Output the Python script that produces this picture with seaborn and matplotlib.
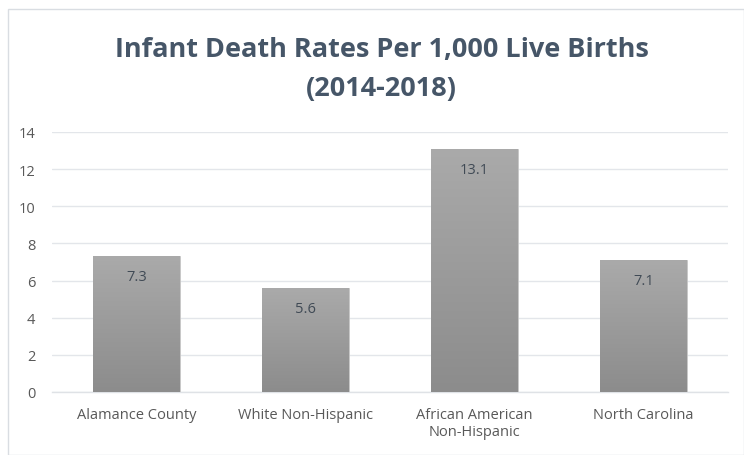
import numpy as np
import pandas as pd
import matplotlib
matplotlib.use("Agg")
import matplotlib.pyplot as plt
import seaborn as sns
from matplotlib.patches import Rectangle
from matplotlib.colors import LinearSegmentedColormap

categories = ["Alamance County", "White Non-Hispanic", "African American\nNon-Hispanic", "North Carolina"]
values = [7.3, 5.6, 13.1, 7.1]
value_labels = ["7.3", "5.6", "13.1", "7.1"]
yticks = [0, 2, 4, 6, 8, 10, 12, 14]

sns.set_theme(style="white")
plt.rcParams['font.family'] = ['Open Sans', 'DejaVu Sans']

fig = plt.figure(figsize=(7.44, 4.56), dpi=100)
ax = fig.add_axes([52/744, 1-393/456, 676/744, (393-133)/456])

df = pd.DataFrame({"cat": categories, "val": values})
sns.barplot(data=df, x="cat", y="val", ax=ax, color="#9a9a9a", width=0.51,
            edgecolor="#c8c8c8", linewidth=0.6, zorder=3)

# gradient fill
grad = np.linspace(0, 1, 256).reshape(-1, 1)
cmap = LinearSegmentedColormap.from_list("g", ["#8c8c8c", "#aaaaaa"])
for p in ax.patches:
    x0, y0 = p.get_x(), p.get_y()
    w, h = p.get_width(), p.get_height()
    im = ax.imshow(grad, extent=[x0, x0 + w, y0, y0 + h], origin="lower",
                   cmap=cmap, aspect="auto", zorder=3.5)
    im.set_clip_path(p)
ax.set_xlim(-0.5, 3.5)
ax.set_ylim(0, 14)

for i, (v, lab) in enumerate(zip(values, value_labels)):
    ax.text(i, v - 0.7, lab, ha="center", va="top", fontsize=10.5, color="#404a55", zorder=5)

ax.set_yticks(yticks)
ax.set_yticklabels([str(t) for t in yticks], fontsize=10.5, color="#595959")
ax.tick_params(axis="y", length=0, pad=12)
ax.tick_params(axis="x", length=0, pad=11, labelsize=10.5, colors="#595959")
ax.grid(axis="y", color="#e3e6ea", linewidth=1, zorder=0)
ax.set_xlabel("")
ax.set_ylabel("")
for s in ["top", "right", "left"]:
    ax.spines[s].set_visible(False)
ax.spines["bottom"].set_color("#dfe2e6")
ax.spines["bottom"].set_linewidth(1)

fig.text(0.513, 1-50/456, "Infant Death Rates Per 1,000 Live Births", ha="center", va="center",
         fontsize=19.5, fontweight="bold", color="#465668")
fig.text(0.513, 1-89/456, "(2014-2018)", ha="center", va="center",
         fontsize=19.5, fontweight="bold", color="#465668")

fig.patches.append(Rectangle((8/744, 0), 736/744, 1-10/456, transform=fig.transFigure,
                             fill=False, edgecolor="#d9dde2", linewidth=1))

fig.savefig("out.png", dpi=100)
